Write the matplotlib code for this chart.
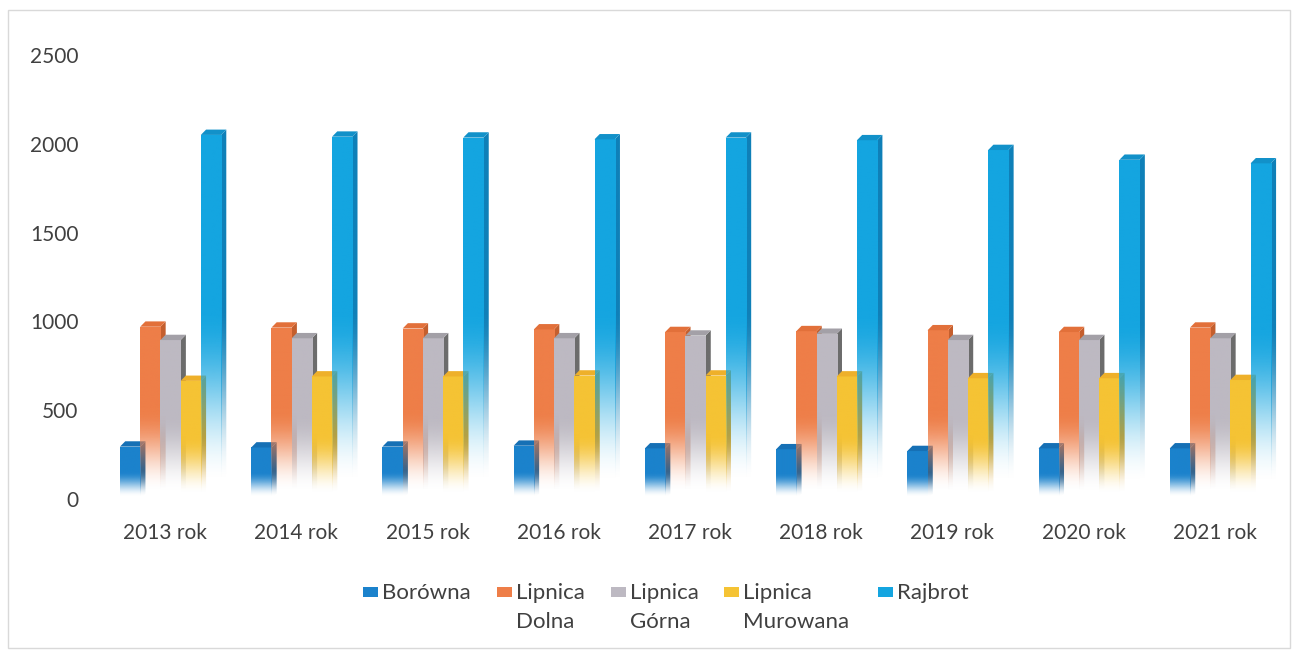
import numpy as np
import matplotlib
matplotlib.use("Agg")
from matplotlib import pyplot as plt
from matplotlib.patches import Rectangle, Polygon
from matplotlib.colors import to_rgb

plt.rcParams['font.family'] = ['Lato', 'DejaVu Sans']

years = ['2013 rok', '2014 rok', '2015 rok', '2016 rok', '2017 rok',
         '2018 rok', '2019 rok', '2020 rok', '2021 rok']
series = ['Borówna', 'Lipnica\nDolna', 'Lipnica\nGórna', 'Lipnica\nMurowana', 'Rajbrot']
borowna = [295, 290, 295, 300, 285, 280, 270, 285, 285]
lipnica_dolna = [970, 965, 960, 955, 940, 945, 950, 940, 965]
lipnica_gorna = [895, 905, 905, 905, 920, 930, 895, 895, 905]
lipnica_murowana = [665, 690, 690, 695, 695, 690, 680, 680, 670]
rajbrot = [2050, 2040, 2035, 2025, 2035, 2020, 1965, 1910, 1890]
values = [borowna, lipnica_dolna, lipnica_gorna, lipnica_murowana, rajbrot]

front_colors = ['#1b82cc', '#ee7e48', '#bdb9c2', '#f5c334', '#14a5e0']
side_colors = ['#155f98', '#c45f2e', '#6c6c6c', '#d8a020', '#0f80b8']
top_colors = ['#1670b5', '#e2703a', '#a3a0a7', '#eeb02a', '#1291c9']

text_color = '#404040'
W, H = 1296, 652


def gradient(color, n=200):
    # solid at the top, fading to white towards the floor
    rgb = to_rgb(color)
    t = np.linspace(0, 1, n)
    a = np.clip((t - 0.04) / (0.52 - 0.04), 0, 1)
    a = a * a * (3 - 2 * a)
    img = np.zeros((n, 1, 4))
    img[:, 0, :3] = rgb
    img[:, 0, 3] = a
    return img


fig = plt.figure(figsize=(W / 100, H / 100), dpi=100)
ax = fig.add_axes([99.4 / W, 153 / H, 1181 / W, 444 / H])

x = np.arange(len(years))
w = 0.154
shift = 0.042
dx = 0.04
dy = 30

z = 2
for k, vals in enumerate(values):
    for i, h in enumerate(vals):
        x0 = x[i] + shift + (k - 2.5) * w
        x1 = x0 + w
        # side face
        side = Polygon([(x1, 0), (x1 + dx, dy), (x1 + dx, h + dy), (x1, h)],
                       closed=True, facecolor='none', edgecolor='none')
        ax.add_patch(side)
        im = ax.imshow(gradient(side_colors[k]), extent=[x1, x1 + dx, 0, h + dy],
                       origin='lower', aspect='auto', zorder=z, interpolation='bilinear')
        im.set_clip_path(side)
        # front face
        front = Rectangle((x0, 0), w, h, facecolor='none', edgecolor='none')
        ax.add_patch(front)
        im = ax.imshow(gradient(front_colors[k]), extent=[x0, x1, 0, h],
                       origin='lower', aspect='auto', zorder=z + 0.1, interpolation='bilinear')
        im.set_clip_path(front)
        # top face
        ax.add_patch(Polygon([(x0, h), (x0 + dx, h + dy), (x1 + dx, h + dy), (x1, h)],
                             closed=True, facecolor=top_colors[k], edgecolor='none',
                             zorder=z + 0.2))
        z += 0.3

ax.set_xlim(-0.5, len(years) - 0.5)
ax.set_ylim(0, 2500)
ax.set_aspect('auto')
ax.set_yticks(np.arange(0, 2501, 500))
ax.set_xticks(x)
ax.set_xticklabels(years)
ax.tick_params(axis='both', length=0, labelsize=15, colors=text_color)
ax.tick_params(axis='y', pad=15)
ax.tick_params(axis='x', pad=17)
for s in ax.spines.values():
    s.set_visible(False)

# legend drawn by hand so the key sits on the first line of each label
legend_text_x = [382, 516, 630, 743, 897]
legend_mid = 592
for px, lab, c in zip(legend_text_x, series, front_colors):
    fig.patches.append(Rectangle(((px - 19) / W, 1 - (legend_mid + 5) / H), 15 / W, 10 / H,
                                 transform=fig.transFigure, facecolor=c,
                                 edgecolor='none'))
    fig.text(px / W, 1 - (legend_mid - 9) / H, lab, fontsize=16, color=text_color,
             ha='left', va='top', linespacing=1.55, transform=fig.transFigure)

fig.patches.append(Rectangle((8 / W, 4 / H), 1282 / W, 638 / H,
                             transform=fig.transFigure, fill=False,
                             edgecolor='#d9d9d9', linewidth=1))

fig.savefig('out.png', dpi=100)
